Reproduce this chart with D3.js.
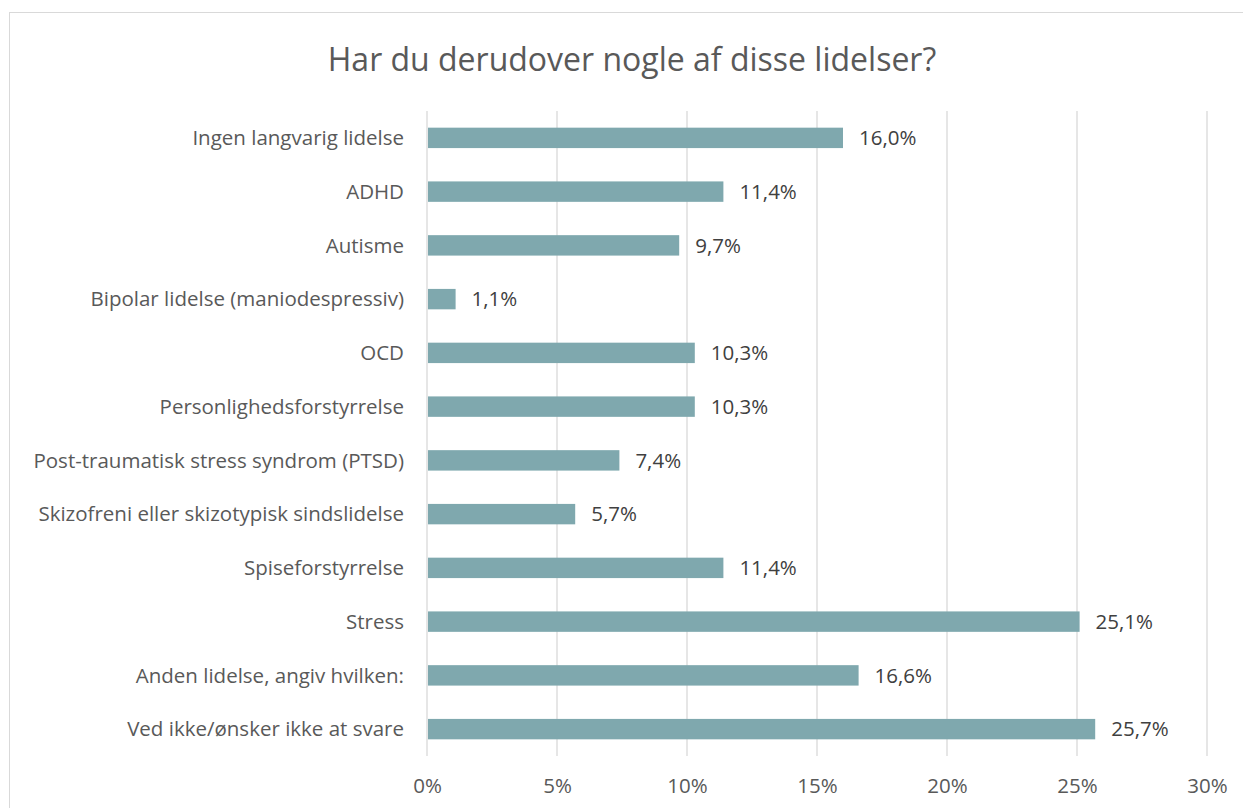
<!DOCTYPE html>
<html>
<head>
<meta charset="utf-8">
<script src="https://cdnjs.cloudflare.com/ajax/libs/d3/7.8.5/d3.min.js"></script>
<style>
  body { margin: 0; background: #fff; }
  svg { display: block; font-family: "Open Sans", "Noto Sans", sans-serif; }
</style>
</head>
<body>
<div id="chart"></div>
<script>
var title = "Har du derudover nogle af disse lidelser?";

var categories = [
  "Ingen langvarig lidelse",
  "ADHD",
  "Autisme",
  "Bipolar lidelse (maniodespressiv)",
  "OCD",
  "Personlighedsforstyrrelse",
  "Post-traumatisk stress syndrom (PTSD)",
  "Skizofreni eller skizotypisk sindslidelse",
  "Spiseforstyrrelse",
  "Stress",
  "Anden lidelse, angiv hvilken:",
  "Ved ikke/ønsker ikke at svare"
];
var values = [16.0, 11.4, 9.7, 1.1, 10.3, 10.3, 7.4, 5.7, 11.4, 25.1, 16.6, 25.7];
var ticks = [0, 5, 10, 15, 20, 25, 30];

var width = 1243, height = 808;
var svg = d3.select("#chart").append("svg")
  .attr("width", width)
  .attr("height", height);

// chart frame (runs off right and bottom)
svg.append("rect")
  .attr("x", 9.5).attr("y", 12.5)
  .attr("width", 1300).attr("height", 900)
  .attr("fill", "none")
  .attr("stroke", "#d9d9d9")
  .attr("stroke-width", 1);

var x = d3.scaleLinear().domain([0, 30]).range([427, 1207]);
var y = d3.scaleBand().domain(categories).range([111, 756])
  .paddingInner(0.62).paddingOuter(0.31);

svg.append("text")
  .attr("x", 632).attr("y", 71)
  .attr("text-anchor", "middle")
  .attr("fill", "#595959")
  .style("font-size", "32px")
  .text(title);

// gridlines
svg.append("g")
  .selectAll("line")
  .data(ticks)
  .enter().append("line")
  .attr("x1", d => x(d)).attr("x2", d => x(d))
  .attr("y1", 111).attr("y2", 756)
  .attr("stroke", "#d9d9d9")
  .attr("stroke-width", 1.3);

// bars
svg.append("g")
  .selectAll("rect")
  .data(values)
  .enter().append("rect")
  .attr("x", x(0) + 1)
  .attr("y", (d, i) => y(categories[i]))
  .attr("width", d => x(d) - x(0) - 1)
  .attr("height", y.bandwidth())
  .attr("fill", "#7fa8ae");

// value labels
svg.append("g")
  .selectAll("text")
  .data(values)
  .enter().append("text")
  .attr("x", d => x(d) + 16)
  .attr("y", (d, i) => y(categories[i]) + y.bandwidth() / 2)
  .attr("dy", "0.35em")
  .attr("fill", "#404040")
  .style("font-size", "20.5px")
  .text(d => d.toFixed(1).replace(".", ",") + "%");

// category labels
svg.append("g")
  .selectAll("text")
  .data(categories)
  .enter().append("text")
  .attr("x", 404)
  .attr("y", d => y(d) + y.bandwidth() / 2)
  .attr("dy", "0.35em")
  .attr("text-anchor", "end")
  .attr("fill", "#595959")
  .style("font-size", "20.5px")
  .text(d => d);

// x axis
var xAxis = d3.axisBottom(x)
  .tickValues(ticks)
  .tickSize(0)
  .tickPadding(0)
  .tickFormat(d => d + "%");

var ax = svg.append("g")
  .attr("transform", "translate(0,786)")
  .call(xAxis);
ax.select(".domain").remove();
ax.selectAll("text")
  .attr("dy", "0.35em")
  .attr("y", 0)
  .attr("fill", "#595959")
  .style("font-size", "20.5px")
  .style("font-family", "'Open Sans', 'Noto Sans', sans-serif");
</script>
</body>
</html>
